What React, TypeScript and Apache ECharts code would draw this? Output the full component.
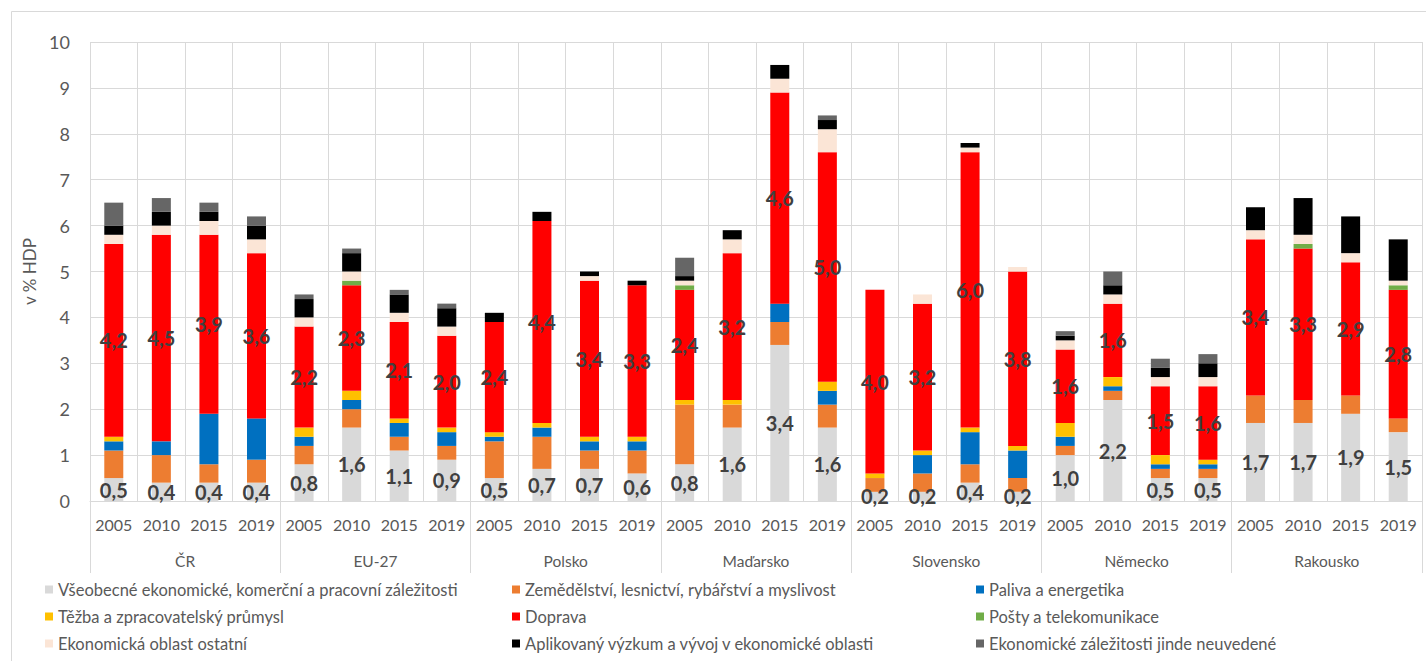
import React, { useEffect, useRef } from "react";
import * as echarts from "echarts";

const countries = ["ČR", "EU-27", "Polsko", "Maďarsko", "Slovensko", "Německo", "Rakousko"];
const years = ["2005", "2010", "2015", "2019"];
const categories = countries.flatMap((c) => years.map((y) => c + " " + y));

const seriesNames = [
  "Všeobecné ekonomické, komerční a pracovní záležitosti",
  "Zemědělství, lesnictví, rybářství a myslivost",
  "Paliva a energetika",
  "Těžba a zpracovatelský průmysl",
  "Doprava",
  "Pošty a telekomunikace",
  "Ekonomická oblast ostatní",
  "Aplikovaný výzkum a vývoj v ekonomické oblasti",
  "Ekonomické záležitosti jinde neuvedené",
];
const seriesColors = ["#d9d9d9", "#ed7d31", "#0070c0", "#ffc000", "#ff0000", "#70ad47", "#fbe5d6", "#000000", "#666666"];

const vseobecne = [0.5, 0.4, 0.4, 0.4, 0.8, 1.6, 1.1, 0.9, 0.5, 0.7, 0.7, 0.6, 0.8, 1.6, 3.4, 1.6, 0.2, 0.2, 0.4, 0.2, 1.0, 2.2, 0.5, 0.5, 1.7, 1.7, 1.9, 1.5];
const zemedelstvi = [0.6, 0.6, 0.4, 0.5, 0.4, 0.4, 0.3, 0.3, 0.8, 0.7, 0.4, 0.5, 1.3, 0.5, 0.5, 0.5, 0.3, 0.4, 0.4, 0.3, 0.2, 0.2, 0.2, 0.2, 0.6, 0.5, 0.4, 0.3];
const paliva = [0.2, 0.3, 1.1, 0.9, 0.2, 0.2, 0.3, 0.3, 0.1, 0.2, 0.2, 0.2, 0, 0, 0.4, 0.3, 0, 0.4, 0.7, 0.6, 0.2, 0.1, 0.1, 0.1, 0, 0, 0, 0];
const tezba = [0.1, 0, 0, 0, 0.2, 0.2, 0.1, 0.1, 0.1, 0.1, 0.1, 0.1, 0.1, 0.1, 0, 0.2, 0.1, 0.1, 0.1, 0.1, 0.3, 0.2, 0.2, 0.1, 0, 0, 0, 0];
const doprava = [4.2, 4.5, 3.9, 3.6, 2.2, 2.3, 2.1, 2.0, 2.4, 4.4, 3.4, 3.3, 2.4, 3.2, 4.6, 5.0, 4.0, 3.2, 6.0, 3.8, 1.6, 1.6, 1.5, 1.6, 3.4, 3.3, 2.9, 2.8];
const posty = [0, 0, 0, 0, 0, 0.1, 0, 0, 0, 0, 0, 0, 0.1, 0, 0, 0, 0, 0, 0, 0, 0, 0, 0, 0, 0, 0.1, 0, 0.1];
const ostatni = [0.2, 0.2, 0.3, 0.3, 0.2, 0.2, 0.2, 0.2, 0, 0, 0.1, 0, 0.1, 0.3, 0.3, 0.5, 0, 0.2, 0.1, 0.1, 0.2, 0.2, 0.2, 0.2, 0.2, 0.2, 0.2, 0.1];
const vyzkum = [0.2, 0.3, 0.2, 0.3, 0.4, 0.4, 0.4, 0.4, 0.2, 0.2, 0.1, 0.1, 0.1, 0.2, 0.3, 0.2, 0, 0, 0.1, 0, 0.1, 0.2, 0.2, 0.3, 0.5, 0.8, 0.8, 0.9];
const jinde = [0.5, 0.3, 0.2, 0.2, 0.1, 0.1, 0.1, 0.1, 0, 0, 0, 0, 0.4, 0, 0, 0.1, 0, 0, 0, 0, 0.1, 0.3, 0.2, 0.2, 0, 0, 0, 0];

const seriesData = [vseobecne, zemedelstvi, paliva, tezba, doprava, posty, ostatni, vyzkum, jinde];
const labeledSeries = [0, 4];

const FONT = "Lato, 'Open Sans', sans-serif";

export default function App() {
  const ref = useRef<HTMLDivElement>(null);
  useEffect(() => {
    if (!ref.current) return;
    const chart = echarts.init(ref.current, null, { renderer: "svg" });
    const series = seriesData.map((d, i) => ({
      name: seriesNames[i],
      type: "bar",
      stack: "total",
      barWidth: 19,
      data: d,
      itemStyle: { color: seriesColors[i] },
      label: labeledSeries.includes(i)
        ? {
            show: true,
            position: "inside",
            formatter: (p: any) => Number(p.value).toFixed(1).replace(".", ","),
            fontFamily: FONT,
            fontWeight: "bold",
            fontSize: 20,
            color: "#404040",
          }
        : { show: false },
    }));
    const legendCol = (idx: number[], left: number) => ({
      orient: "vertical",
      left,
      top: 581,
      padding: 0,
      itemGap: 10,
      itemWidth: 8,
      itemHeight: 8,
      icon: "rect",
      data: idx.map((i) => seriesNames[i]),
      textStyle: { fontFamily: FONT, fontSize: 16.5, color: "#595959", lineHeight: 16 },
    });
    chart.setOption({
      animation: false,
      backgroundColor: "#ffffff",
      textStyle: { fontFamily: FONT },
      grid: { left: 90, right: 4, top: 42, bottom: 160, containLabel: false },
      legend: [legendCol([0, 3, 6], 45), legendCol([1, 4, 7], 512), legendCol([2, 5, 8], 976)],
      xAxis: [
        {
          type: "category",
          data: categories,
          position: "bottom",
          axisLine: { show: true, lineStyle: { color: "#d9d9d9", width: 1 } },
          axisTick: { show: false },
          splitLine: { show: true, interval: 0, lineStyle: { color: "#d9d9d9", width: 1 } },
          axisLabel: {
            interval: 0,
            margin: 15,
            fontFamily: FONT,
            fontSize: 16,
            color: "#595959",
            formatter: (v: string) => v.split(" ").pop(),
          },
        },
        {
          type: "category",
          data: countries,
          position: "bottom",
          axisLine: { show: false },
          axisTick: { show: true, interval: 0, length: 72, lineStyle: { color: "#d9d9d9", width: 1 } },
          splitLine: { show: false },
          axisLabel: { interval: 0, margin: 52, fontFamily: FONT, fontSize: 15.5, color: "#595959" },
        },
      ],
      yAxis: {
        type: "value",
        min: 0,
        max: 10,
        interval: 1,
        name: "v % HDP",
        nameLocation: "middle",
        nameGap: 52,
        nameRotate: 90,
        nameTextStyle: { fontFamily: FONT, fontSize: 17, color: "#595959" },
        axisLine: { show: false },
        axisTick: { show: false },
        splitLine: { show: true, lineStyle: { color: "#d9d9d9", width: 1 } },
        axisLabel: { margin: 20, fontFamily: FONT, fontSize: 18, color: "#595959" },
      },
      graphic: [
        {
          type: "rect",
          silent: true,
          z: -10,
          shape: { x: 11.5, y: 11.5, width: 1500, height: 700 },
          style: { fill: "none", stroke: "#d9d9d9", lineWidth: 1 },
        },
      ],
      series,
    });
    return () => chart.dispose();
  }, []);
  return <div ref={ref} style={{ position: "absolute", left: 0, top: 0, width: 1426, height: 661 }} />;
}
